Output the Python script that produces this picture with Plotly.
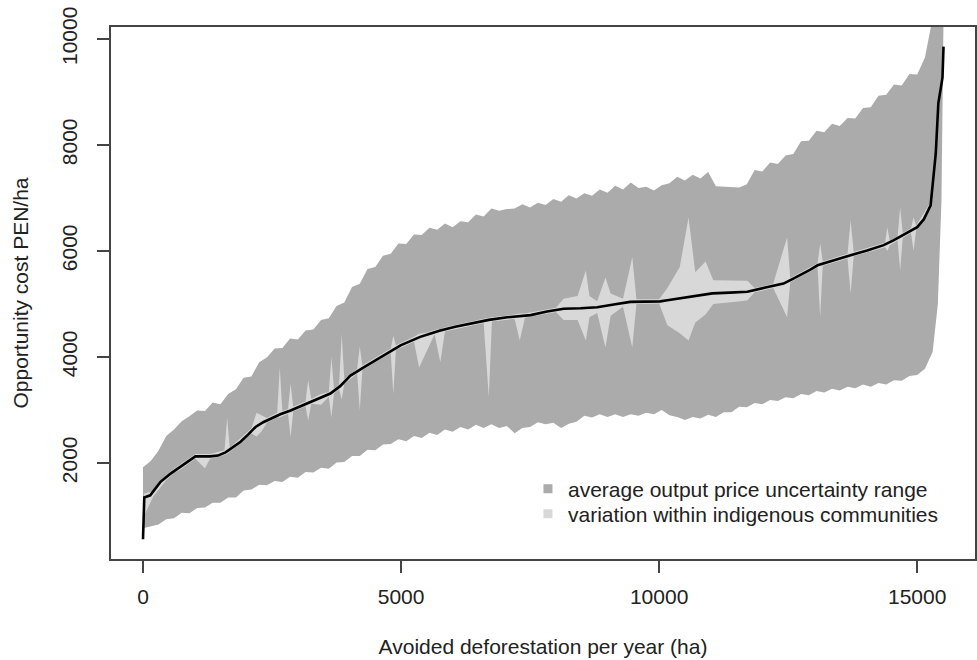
import plotly.graph_objects as go

# avoided deforestation (ha) grid for the price-uncertainty envelope
band_x = [
    0, 150, 300, 450, 600, 750, 900, 1050, 1200, 1350,
    1500, 1650, 1800, 1950, 2100, 2250, 2400, 2550, 2700, 2850,
    3000, 3150, 3300, 3450, 3600, 3750, 3900, 4050, 4200, 4350,
    4500, 4650, 4800, 4950, 5100, 5250, 5400, 5550, 5700, 5850,
    6000, 6150, 6300, 6450, 6600, 6750, 6900, 7050, 7200, 7350,
    7500, 7650, 7800, 7950, 8100, 8250, 8400, 8550, 8700, 8850,
    9000, 9150, 9300, 9450, 9600, 9750, 9900, 10050, 10200, 10350,
    10500, 10650, 10800, 10950, 11100, 11250, 11400, 11550, 11700, 11850,
    12000, 12150, 12300, 12450, 12600, 12750, 12900, 13050, 13200, 13350,
    13500, 13650, 13800, 13950, 14100, 14250, 14400, 14550, 14700, 14850,
    15000, 15150, 15300, 15400, 15470, 15510,
]
band_upper = [
    1920, 2040, 2230, 2510, 2630, 2790, 2880, 2990, 2980, 3140,
    3110, 3300, 3390, 3610, 3630, 3900, 3990, 4160, 4170, 4350,
    4330, 4500, 4520, 4700, 4730, 4960, 5030, 5320, 5380, 5660,
    5700, 5910, 5950, 6140, 6130, 6310, 6300, 6440, 6400, 6520,
    6450, 6560, 6540, 6690, 6650, 6800, 6760, 6790, 6800, 6880,
    6820, 6910, 6870, 6980, 6930, 7050, 6990, 7090, 7040, 7160,
    7100, 7230, 7160, 7290, 7190, 7210, 7140, 7240, 7280, 7400,
    7330, 7440, 7370, 7490, 7220, 7210, 7200, 7200, 7260, 7530,
    7500, 7670, 7640, 7800, 7830, 8070, 8080, 8270, 8240, 8400,
    8360, 8510, 8500, 8700, 8710, 8930, 8950, 9140, 9120, 9340,
    9330, 9650, 10400, 10400, 10400, 10400,
]
band_lower = [
    770, 800, 840, 940, 960, 1060, 1050, 1150, 1160, 1250,
    1250, 1350, 1350, 1480, 1500, 1590, 1580, 1660, 1640, 1740,
    1720, 1830, 1820, 1910, 1890, 2010, 2020, 2130, 2130, 2250,
    2240, 2350, 2360, 2450, 2410, 2510, 2470, 2570, 2530, 2630,
    2590, 2680, 2630, 2720, 2660, 2730, 2660, 2700, 2560, 2660,
    2680, 2770, 2730, 2760, 2660, 2740, 2780, 2890, 2860, 2920,
    2870, 2920, 2870, 2920, 2890, 2950, 2920, 3000, 2900, 2870,
    2810, 2870, 2840, 2910, 2870, 2960, 2960, 3060, 3050, 3130,
    3110, 3190, 3170, 3240, 3220, 3300, 3280, 3360, 3330, 3400,
    3370, 3440, 3410, 3480, 3440, 3510, 3480, 3560, 3550, 3640,
    3660, 3780, 4100, 5000, 6950, 10400,
]

# variation within indigenous communities
comm_x = [
    0, 20, 200, 450, 600, 720, 1015, 1200, 1300, 1580,
    1630, 1680, 2100, 2200, 2300, 2400, 2600, 2650, 2700, 2810,
    2860, 2910, 3150, 3200, 3260, 3450, 3600, 3650, 3700, 3800,
    3850, 3900, 4150, 4200, 4250, 4500, 4800, 4850, 4900, 5250,
    5350, 5500, 5650, 5760, 5850, 6600, 6700, 6760, 7200, 7300,
    7400, 8000, 8150, 8420, 8580, 8650, 8800, 8960, 9060, 9300,
    9480, 9560, 10000, 10160, 10400, 10570, 10700, 10900, 11050, 11580,
    11710, 11850, 12210, 12480, 12540, 13070, 13120, 13170, 13650, 13710,
    13770, 14380, 14420, 14470, 14620, 14670, 14720, 14880, 14930, 14980,
    15260, 15360, 15510,
]
comm_upper = [
    640, 1420, 1470, 1780, 1890, 1975, 2170, 2170, 2170, 2240,
    2860, 2290, 2650, 2950, 2900, 2850, 2950, 3800, 2980, 3020,
    3500, 3060, 3160, 3560, 3210, 3300, 3340, 4000, 3400, 3480,
    4440, 3580, 3780, 4200, 3840, 3990, 4160, 4400, 4220, 4380,
    4440, 4460, 4510, 4530, 4560, 4720, 4740, 4750, 4800, 4820,
    4820, 4930, 5100, 5150, 5630, 5150, 5050, 5500, 5200, 5100,
    5880, 5090, 5090, 5300, 5700, 6630, 5600, 5800, 5450, 5450,
    5440, 5300, 5380, 6260, 5490, 5770, 6140, 5800, 5950, 6580,
    5980, 6160, 6450, 6190, 6280, 6820, 6340, 6430, 6630, 6480,
    6920, 7900, 9890,
]
comm_lower = [
    480, 1000, 1370, 1680, 1810, 1875, 2080, 1900, 2080, 2150,
    2170, 2200, 2560, 2500, 2600, 2760, 2860, 2860, 2890, 2930,
    2480, 2970, 3070, 2800, 3120, 3100, 3250, 2860, 3310, 3390,
    3200, 3490, 3690, 2990, 3750, 3900, 4070, 3300, 4130, 4290,
    3800, 4100, 4430, 3900, 4480, 4640, 3240, 4670, 4720, 4310,
    4740, 4850, 4700, 4700, 4310, 4750, 4830, 4180, 4780, 4950,
    4180, 5000, 5010, 4600, 4450, 4310, 4650, 4800, 5000, 5050,
    5070, 5220, 5300, 4750, 5410, 5690, 4750, 5720, 5860, 5200,
    5900, 6070, 6000, 6110, 6200, 5630, 6250, 6340, 6000, 6400,
    6800, 7780, 9820,
]

# median opportunity cost curve
median_x = [
    0, 25, 140, 335, 520, 720, 870, 1015, 1300, 1450,
    1600, 1750, 1890, 2040, 2180, 2330, 2470, 2660, 2860, 3050,
    3240, 3440, 3630, 3820, 4020, 4300, 4600, 4800, 4990, 5180,
    5370, 5560, 5760, 6050, 6340, 6700, 7060, 7280, 7510, 7830,
    8150, 8480, 8800, 9120, 9440, 9730, 10020, 10160, 10600, 11030,
    11370, 11710, 12060, 12410, 12600, 12790, 12930, 13070, 13390, 13710,
    14030, 14350, 14540, 14730, 14870, 15000, 15130, 15260, 15360, 15410,
    15490, 15510,
]
median_y = [
    561, 1350, 1390, 1640, 1790, 1925, 2040, 2125, 2125, 2140,
    2200, 2300, 2400, 2540, 2680, 2770, 2840, 2920, 2990, 3070,
    3150, 3230, 3310, 3450, 3650, 3820, 4000, 4110, 4220, 4300,
    4380, 4440, 4500, 4570, 4630, 4700, 4750, 4770, 4790, 4860,
    4910, 4920, 4940, 4990, 5040, 5045, 5050, 5070, 5140, 5200,
    5215, 5230, 5310, 5385, 5480, 5570, 5650, 5730, 5830, 5920,
    6010, 6110, 6200, 6300, 6380, 6450, 6600, 6860, 7840, 8790,
    9270, 9855,
]

x_ticks = [0, 5000, 10000, 15000]
x_labels = ['0', '5000', '10000', '15000']
y_ticks = [2000, 4000, 6000, 8000, 10000]
y_labels = ['2000', '4000', '6000', '8000', '10000']

dark_grey = '#ABABAB'
light_grey = '#D8D8D8'
font_family = 'Liberation Sans, Arial, sans-serif'

fig = go.Figure()

fig.add_trace(go.Scatter(
    x=band_x + band_x[::-1],
    y=band_upper + band_lower[::-1],
    mode='lines', fill='toself', fillcolor=dark_grey,
    line=dict(width=0), showlegend=False, hoverinfo='skip',
))
fig.add_trace(go.Scatter(
    x=comm_x + comm_x[::-1],
    y=comm_upper + comm_lower[::-1],
    mode='lines', fill='toself', fillcolor=light_grey,
    line=dict(width=0), showlegend=False, hoverinfo='skip',
))
fig.add_trace(go.Scatter(
    x=median_x, y=median_y, mode='lines',
    line=dict(color='black', width=2.6), showlegend=False,
))

# legend keys, one legend box per row so the rows sit like R's legend()
fig.add_trace(go.Scatter(
    x=[None], y=[None], mode='markers',
    marker=dict(symbol='square', size=9, color=dark_grey),
    name='average output price uncertainty range', legend='legend',
))
fig.add_trace(go.Scatter(
    x=[None], y=[None], mode='markers',
    marker=dict(symbol='square', size=9, color=light_grey),
    name='variation within indigenous communities', legend='legend2',
))

axis_common = dict(
    showgrid=False, zeroline=False,
    showline=True, mirror=True, linecolor='#444444', linewidth=1.5,
    ticks='outside', ticklen=12, tickwidth=1.5, tickcolor='#444444',
    tickfont=dict(size=21, color='#222222'),
)

fig.update_xaxes(
    range=[-620, 16120], tickvals=x_ticks, ticktext=x_labels,
    ticklabelstandoff=6,
    title=dict(text='Avoided deforestation per year (ha)',
               font=dict(size=21, color='#222222'), standoff=32),
    **axis_common,
)
fig.update_yaxes(
    range=[189, 10226], tickvals=y_ticks, ticktext=y_labels, tickangle=-90,
    ticklabelstandoff=12,
    title=dict(text='Opportunity cost PEN/ha',
               font=dict(size=21, color='#222222'), standoff=23),
    **axis_common,
)

legend_common = dict(
    xanchor='left', yanchor='middle',
    bgcolor='rgba(0,0,0,0)', font=dict(size=21, color='#222222'),
)
fig.update_layout(
    width=977, height=660,
    margin=dict(l=111, r=2, t=27, b=101, autoexpand=False),
    paper_bgcolor='white', plot_bgcolor='white',
    font=dict(family=font_family, size=21, color='#222222'),
    legend=dict(x=0.4826, y=0.1316, **legend_common),
    legend2=dict(x=0.4826, y=0.0846, **legend_common),
)

fig.write_html(
    "out.html",
    config={'displayModeBar': False},
    post_script="document.body.style.margin='0';",
)
